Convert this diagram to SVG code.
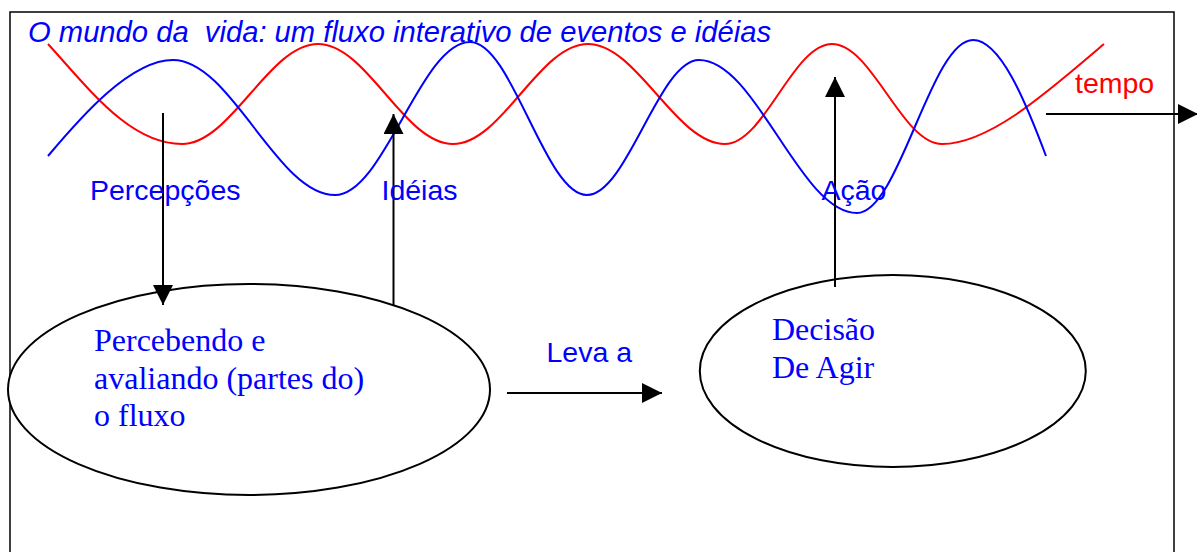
<svg xmlns="http://www.w3.org/2000/svg" width="1197" height="552" viewBox="0 0 1197 552">
<style>
.sans{font-family:"Liberation Sans",Arial,sans-serif;font-size:28.5px;fill:#0000ff}
.serif{font-family:"Liberation Serif","Times New Roman",serif;font-size:32px;fill:#0000ff}
.wave{fill:none;stroke-width:2}
.node{fill:#ffffff;stroke:#000000;stroke-width:2}
.conn{stroke:#000000;stroke-width:2;fill:none}
</style>
<defs>
<marker id="ah" markerUnits="userSpaceOnUse" markerWidth="20" markerHeight="20" viewBox="0 0 20 20" refX="20" refY="10" orient="auto">
<path d="M0,0 L20,10 L0,20 Z" fill="#000000"/>
</marker>
</defs>
<rect x="10" y="12" width="1164" height="560" fill="#ffffff" stroke="#000000" stroke-width="1.5"/>
<g id="waves">
<path class="wave" stroke="#ff0000" d="M48,44 C90,90 130,144 182,144 C231,144 269,44 318,44 C367,44 404,144 453,144 C502,144 539,44 588,44 C637,44 676,144 725,144 C764,144 793,44 832,44 C872,44 902,144 942,144 C990,144 1050,90 1104,44"/>
<path class="wave" stroke="#0000ff" d="M48,156 C80,118 130,60 173,60 C231,60 277,195 335,195 C384,195 421,42 470,42 C512,42 545,195 587,195 C627,195 659,60 699,60 C756,60 800,213 857,213 C899,213 931,40 973,40 C1000,40 1025,100 1046,156"/>
</g>
<text class="sans" x="28" y="42" font-style="italic" style="font-size:29.2px;white-space:pre" xml:space="preserve">O mundo da  vida: um fluxo interativo de eventos e idéias</text>
<text class="sans" x="1075" y="93" style="fill:#ff0000">tempo</text>
<g id="node-perceber">
<ellipse class="node" cx="249" cy="389.5" rx="241" ry="105.5"/>
<text class="serif" x="94" y="351">Percebendo e</text>
<text class="serif" x="94" y="388.5">avaliando (partes do)</text>
<text class="serif" x="94" y="426">o fluxo</text>
</g>
<g id="node-decisao">
<ellipse class="node" cx="892.8" cy="371" rx="193" ry="96"/>
<text class="serif" x="772" y="340">Decisão</text>
<text class="serif" x="772" y="377.5">De Agir</text>
</g>
<g id="connectors">
<line class="conn" x1="163" y1="113" x2="163" y2="305" marker-end="url(#ah)"/>
<line class="conn" x1="393.5" y1="305" x2="393.5" y2="114" marker-end="url(#ah)"/>
<line class="conn" x1="835" y1="287" x2="835" y2="77" marker-end="url(#ah)"/>
<line class="conn" x1="507" y1="393" x2="662" y2="393" marker-end="url(#ah)"/>
<line class="conn" x1="1046" y1="114" x2="1198" y2="114" marker-end="url(#ah)"/>
</g>
<g id="labels">
<text class="sans" x="90" y="200">Percepções</text>
<text class="sans" x="381.5" y="200">Idéias</text>
<text class="sans" x="821.5" y="200">Ação</text>
<text class="sans" x="546.5" y="361.5">Leva a</text>
</g>
</svg>
